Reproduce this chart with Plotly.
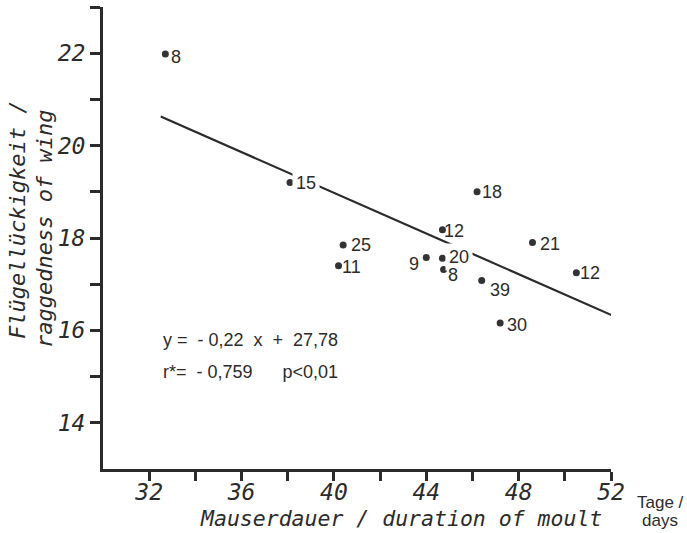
import plotly.graph_objects as go

# ---- data ----
moult_days = [32.7, 38.1, 46.2, 44.7, 40.4, 48.6, 44.0, 44.7, 44.75, 40.2, 50.5, 46.4, 47.2]
raggedness = [21.98, 19.2, 19.0, 18.18, 17.85, 17.9, 17.58, 17.56, 17.32, 17.4, 17.25, 17.08, 16.16]
sample_n = ["8", "15", "18", "12", "25", "21", "9", "20", "8", "11", "12", "39", "30"]

reg_x = [32.5, 52.3]
reg_y = [20.63, 16.27]

x_tickvals = [32, 34, 36, 38, 40, 42, 44, 46, 48, 50, 52]
x_ticktext = ["32", "", "36", "", "40", "", "44", "", "48", "", "52"]
y_tickvals = [14, 15, 16, 17, 18, 19, 20, 21, 22, 23]
y_ticktext = ["14", "", "16", "", "18", "", "20", "", "22", ""]

eq_line1 = "y\u00a0=\u00a0\u00a0-\u00a00,22\u00a0\u00a0x\u00a0\u00a0+\u00a0\u00a027,78"
eq_line2 = "r*=\u00a0\u00a0-\u00a00,759\u00a0\u00a0\u00a0\u00a0\u00a0\u00a0p<0,01"

# ---- layout / style ----
W, H = 687, 533
ML, MR, MT, MB = 103, 76, 7, 64
INK = "#2b2b2b"
LETTER = "DejaVu Sans Mono"
SANS = "Liberation Sans"

# label offsets (px from the dot centre: right, down)
label_offsets = [(11, 3), (16, 0), (15, 0), (12, 1), (18, 0), (18, 1), (-12, 7),
                 (17, -1), (9, 6), (13, 1), (14, 0), (18, 9), (17, 2)]
masked = {1, 7}  # labels that interrupt the regression line

pw, ph = W - ML - MR, H - MT - MB


def paper(px, py):
    return (px - ML) / pw, (H - MB - py) / ph


fig = go.Figure()
fig.add_trace(go.Scatter(x=reg_x, y=reg_y, mode="lines",
                         line=dict(color=INK, width=2.2), hoverinfo="skip"))
fig.add_trace(go.Scatter(x=moult_days, y=raggedness, mode="markers",
                         marker=dict(color="#333333", size=7), hoverinfo="skip"))

annotations = []
order = sorted(range(len(sample_n)), key=lambda i: 0 if i in masked else 1)
for i in order:
    dx, dy = label_offsets[i]
    a = dict(x=moult_days[i], y=raggedness[i], xref="x", yref="y", text=sample_n[i],
             showarrow=False, xanchor="center", yanchor="middle",
             xshift=dx, yshift=-dy, font=dict(family=SANS, size=18, color=INK))
    if i in masked:
        a.update(bgcolor="white", borderpad=3)
    annotations.append(a)


def txt(px, py, text, size, family, anchor="center", angle=0, style="normal"):
    x, y = paper(px, py)
    annotations.append(dict(x=x, y=y, xref="paper", yref="paper", text=text,
                            showarrow=False, xanchor=anchor, yanchor="middle",
                            textangle=angle,
                            font=dict(family=family, size=size, color=INK, style=style)))


txt(161, 340, eq_line1, 18, SANS, anchor="left")
txt(161, 372, eq_line2, 18, SANS, anchor="left")
txt(17, 220, "Flügellückigkeit /", 22, LETTER, angle=-90, style="italic")
txt(44, 229, "raggedness of wing", 22, LETTER, angle=-90, style="italic")
txt(401, 518, "Mauserdauer / duration of moult", 21.5, LETTER, style="italic")
txt(660, 502, "Tage /", 17, SANS)
txt(660, 520, "days", 17, SANS)

fig.update_layout(
    width=W, height=H, margin=dict(l=ML, r=MR, t=MT, b=MB),
    paper_bgcolor="white", plot_bgcolor="white", showlegend=False,
    annotations=annotations,
    xaxis=dict(range=[30, 52], tickvals=x_tickvals, ticktext=x_ticktext,
               showline=True, linecolor=INK, linewidth=3, ticks="outside",
               ticklen=9, tickwidth=2.5, tickcolor=INK, showgrid=False, zeroline=False,
               ticklabelstandoff=-9,
               tickfont=dict(family=LETTER, size=23, color=INK, style="italic")),
    yaxis=dict(range=[13, 23], tickvals=y_tickvals, ticktext=y_ticktext,
               showline=True, linecolor=INK, linewidth=3, ticks="outside",
               ticklen=10, tickwidth=2.5, tickcolor=INK, showgrid=False, zeroline=False,
               tickfont=dict(family=LETTER, size=23, color=INK, style="italic")),
)

fig.write_html("out.html", config={"displayModeBar": False},
               post_script="document.body.style.margin='0';document.body.style.overflow='hidden';")
